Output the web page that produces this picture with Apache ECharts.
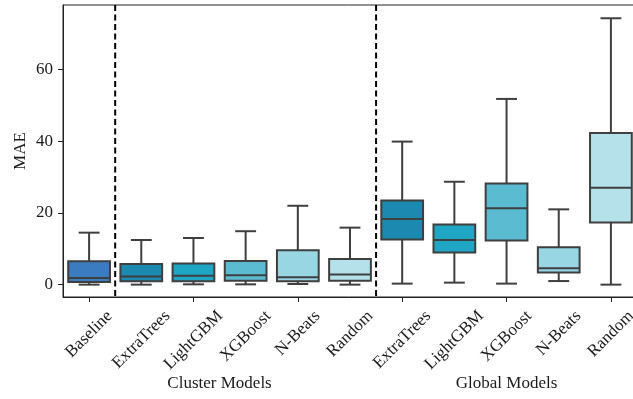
<!DOCTYPE html>
<html><head><meta charset="utf-8">
<script src="https://cdn.jsdelivr.net/npm/echarts@6/dist/echarts.min.js"></script>
<style>html,body{margin:0;padding:0;background:#fff}#c{width:633px;height:399px}</style>
</head><body><div id="c"></div>
<script>
// ---- data ----
const categories = ['Baseline','ExtraTrees','LightGBM','XGBoost','N-Beats','Random','ExtraTrees','LightGBM','XGBoost','N-Beats','Random'];
const whiskerLow  = [0, 0, 0.08, 0.08, 0.17, 0, 0.28, 0.56, 0.28, 1.0, 0];
const quartile1   = [0.73, 0.92, 0.92, 1.1, 0.92, 1.1, 12.6, 8.93, 12.3, 3.35, 17.3];
const medians     = [1.85, 2.3, 2.5, 2.6, 2.04, 2.8, 18.3, 12.45, 21.3, 4.6, 27.0];
const quartile3   = [6.5, 5.75, 5.86, 6.6, 9.6, 7.15, 23.5, 16.8, 28.2, 10.4, 42.3];
const whiskerHigh = [14.5, 12.45, 13.0, 14.9, 22.0, 15.9, 39.9, 28.7, 51.8, 21.0, 74.3];
const yTicks = [0, 20, 40, 60];
const groupNames = ['Cluster Models', 'Global Models'];
const groupFirst = [0, 6];
const groupLast  = [5, 10];
const separatorsAfter = [0, 5];

// ---- styles ----
const boxColors = ['#3b7bbf','#1b89b0','#1ea6c4','#5bbcd1','#99d6e3','#b5e2ea','#1b89b0','#1ea6c4','#5bbcd1','#99d6e3','#b5e2ea'];
const FONT = '"Liberation Serif", "DejaVu Serif", serif';
const FS = 17;
const TEXT = '#1a1a1a';
const EDGE = '#3f3f3f';

const chart = echarts.init(document.getElementById('c'), null, {renderer: 'canvas'});
const boxData = categories.map((c, i) => [i, whiskerLow[i], quartile1[i], medians[i], quartile3[i], whiskerHigh[i]]);
const sepData = separatorsAfter.map(i => [i, 0]);

function renderBox(params, api) {
  const i = api.value(0);
  const lo = api.coord([i, api.value(1)]);
  const b1 = api.coord([i, api.value(2)]);
  const md = api.coord([i, api.value(3)]);
  const b3 = api.coord([i, api.value(4)]);
  const hi = api.coord([i, api.value(5)]);
  const bw = api.size([1, 0])[0] * 0.8;
  const x = lo[0];
  const st = {stroke: EDGE, lineWidth: 2, fill: null};
  return {type: 'group', children: [
    {type: 'line', shape: {x1: x, y1: b3[1], x2: x, y2: hi[1]}, style: st},
    {type: 'line', shape: {x1: x, y1: lo[1], x2: x, y2: b1[1]}, style: st},
    {type: 'line', shape: {x1: x - bw / 4, y1: hi[1], x2: x + bw / 4, y2: hi[1]}, style: st},
    {type: 'line', shape: {x1: x - bw / 4, y1: lo[1], x2: x + bw / 4, y2: lo[1]}, style: st},
    {type: 'rect', shape: {x: x - bw / 2, y: b3[1], width: bw, height: b1[1] - b3[1]},
      style: {fill: boxColors[i], stroke: EDGE, lineWidth: 2}},
    {type: 'line', shape: {x1: x - bw / 2, y1: md[1], x2: x + bw / 2, y2: md[1]}, style: st}
  ]};
}

function renderSep(params, api) {
  const i = api.value(0);
  const xa = api.coord([i, 0])[0];
  const xb = api.coord([i + 1, 0])[0];
  const x = (xa + xb) / 2;
  const cs = params.coordSys;
  return {type: 'line', shape: {x1: x, y1: cs.y, x2: x, y2: cs.y + cs.height},
    style: {stroke: '#000', lineWidth: 2, lineDash: [6, 3.5]}};
}

chart.setOption({
  animation: false,
  grid: {left: 63, right: -4, top: 5, bottom: 102, containLabel: false, outerBoundsMode: 'none',
    show: true, borderColor: '#222', borderWidth: 1, backgroundColor: 'transparent'},
  xAxis: {
    type: 'category', data: categories,
    axisLine: {onZero: false, lineStyle: {color: '#222', width: 1}},
    axisTick: {show: true, alignWithLabel: true, length: 5, lineStyle: {color: '#222'}},
    axisLabel: {show: false},
    splitLine: {show: false}
  },
  yAxis: {
    type: 'value', min: -3.45, max: 78,
    name: 'MAE', nameLocation: 'middle', nameGap: 34, nameMoveOverlap: false,
    nameTextStyle: {fontFamily: FONT, fontSize: FS, color: TEXT},
    axisLine: {show: true, lineStyle: {color: '#222', width: 1}},
    axisTick: {show: true, length: 5, customValues: yTicks, lineStyle: {color: '#222'}},
    axisLabel: {customValues: yTicks, margin: 10, fontFamily: FONT, fontSize: FS, color: TEXT},
    splitLine: {show: false}
  },
  series: [
    {type: 'custom', data: boxData, encode: {x: 0, y: [1, 2, 3, 4, 5]}, renderItem: renderBox, clip: false, z: 2},
    {type: 'custom', data: sepData, encode: {x: 0, y: 1}, renderItem: renderSep, clip: false, z: 3}
  ]
});

// rotated category labels and group labels, placed from the axis scale
const ctx = document.createElement('canvas').getContext('2d');
const fontStr = FS + 'px ' + FONT;
ctx.font = fontStr;
const axisBottom = chart.convertToPixel({yAxisIndex: 0}, -3.45);
const labelTop = axisBottom + 12;
const s = Math.SQRT1_2;
const elements = categories.map((c, i) => {
  const x = chart.convertToPixel({xAxisIndex: 0}, i);
  const L = ctx.measureText(c).width;
  const h = FS * 0.75;
  const half = (L + h) * s / 2;
  return {type: 'text', x: x, y: labelTop + half, rotation: Math.PI / 4,
    style: {text: c, font: fontStr, fill: TEXT, align: 'center', verticalAlign: 'middle'}};
});
groupNames.forEach((g, k) => {
  const xa = chart.convertToPixel({xAxisIndex: 0}, groupFirst[k]);
  const xb = chart.convertToPixel({xAxisIndex: 0}, groupLast[k]);
  elements.push({type: 'text', x: (xa + xb) / 2, y: 384,
    style: {text: g, font: fontStr, fill: TEXT, align: 'center', verticalAlign: 'middle'}});
});
chart.setOption({graphic: {elements: elements}});
</script>
</body></html>
